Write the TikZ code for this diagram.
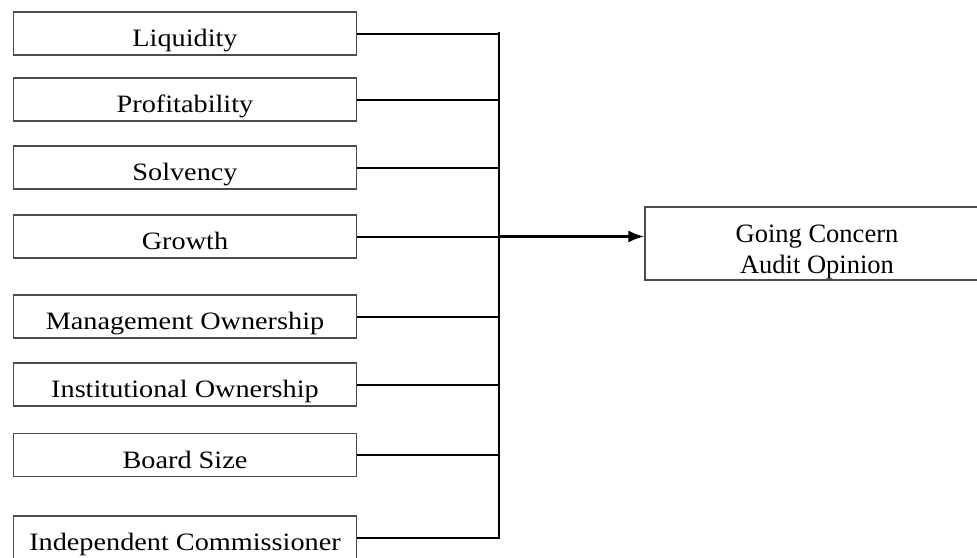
\documentclass[tikz,border=0pt]{standalone}
\usepackage{fontspec}
\setmainfont{Liberation Serif}
\newfontfamily\boxfont[FakeStretch=1.13]{Liberation Serif}
\usetikzlibrary{arrows.meta}
\tikzstyle{factor} = [rectangle, draw=black!70, line width=1.3pt, minimum width=343pt, minimum height=43pt, inner sep=0pt, text height=26pt, text depth=0pt, font=\boxfont\fontsize{25}{30}\selectfont]
\tikzstyle{result} = [rectangle, draw=black!70, line width=1.3pt, minimum width=344pt, minimum height=73pt, inner sep=0pt, align=center, text height=59pt, text depth=0pt, font=\fontsize{26.5}{31}\selectfont]
\tikzstyle{link} = [line width=2pt]
\tikzstyle{bus} = [line width=2.6pt]

\begin{document}
\begin{tikzpicture}[x=1pt,y=-1pt]%
				\useasboundingbox (0,0) rectangle (977,557);
				\clip (0,0) rectangle (977,557);
				\node [result] (gca) at (817,243.5) {Going Concern\\Audit Opinion};
				\foreach \name/\txt/\y in {liq/Liquidity/33.5, pro/Profitability/99.5, sol/Solvency/167.5, gro/Growth/236.5, man/Management Ownership/316.5, ins/Institutional Ownership/384.5, bsz/Board Size/455, ind/Independent Commissioner/537.5} {
					\node [factor] (\name) at (185,\y) {\txt};
					\coordinate (j\name) at (499,\y);
					\draw [link] (\name.east) -- (j\name);
				}
				\draw [bus, line cap=rect] (jliq) -- (jind);
				\draw [bus, -{Latex[length=16pt,width=12pt]}] (jgro) -- (jgro -| gca.west);
	\end{tikzpicture}
\end{document}
